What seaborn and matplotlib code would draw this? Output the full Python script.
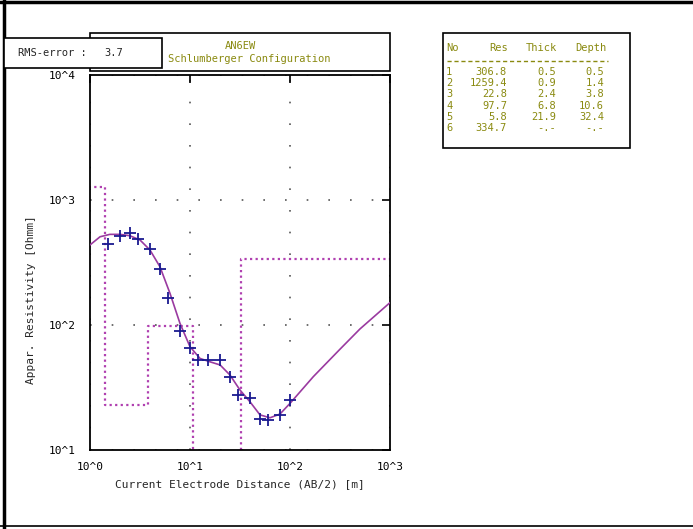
import numpy as np
import pandas as pd
import matplotlib
matplotlib.use("Agg")
import matplotlib.pyplot as plt
from matplotlib.lines import Line2D
from matplotlib.patches import Rectangle
from matplotlib.ticker import LogLocator, FuncFormatter, NullFormatter
import seaborn as sns

# Observed sounding data (AB/2 in m, apparent resistivity in Ohmm)
obs_ab2 = [1.5, 2, 2.5, 3, 4, 5, 6, 8, 10, 12, 15, 20, 25, 30, 40, 50, 60, 80, 100]
obs_rho = [445, 518, 548, 485, 405, 279, 164, 89.5, 65, 52.5, 52.5, 52.5, 38.6, 27.7, 25.9, 17.8, 17.4, 19.2, 25.1]

# Calculated model curve
calc_ab2 = [1.0, 1.26, 1.58, 2.0, 2.5, 3.16, 3.98, 5.01, 6.31, 7.94, 10, 12.6, 15.8, 20,
            25.1, 31.6, 39.8, 50.1, 63.1, 79.4, 100, 171, 316, 501, 1000]
calc_rho = [437, 508, 531, 531, 518, 479, 398, 292, 179, 103, 67, 54, 50.8, 47.9,
            39.8, 30.2, 24.3, 19.1, 18.1, 19.4, 23.6, 38.6, 64, 93, 151]

# Layered model table
layer_no = [1, 2, 3, 4, 5, 6]
layer_res = [306.8, 1259.4, 22.8, 97.7, 5.8, 334.7]
layer_thick = ["0.5", "0.9", "2.4", "6.8", "21.9", "-.-"]
layer_depth = ["0.5", "1.4", "3.8", "10.6", "32.4", "-.-"]
layer_top = [0.1, 0.5, 1.4, 3.8, 10.6, 32.4]

rms_error = 3.7
station = "AN6EW"

txt_col = "#8a8a10"
mono = ["DejaVu Sans Mono"]
fs = 7.5

sns.set_style("white")
plt.rcParams["font.family"] = mono

fig = plt.figure(figsize=(6.93, 5.29), dpi=100)
ax = fig.add_axes([90 / 693, 1 - 450 / 529, 300 / 693, 375 / 529])

# model step line
step_x = layer_top + [1000]
step_y = layer_res + [layer_res[-1]]
ax.plot(step_x, step_y, drawstyle="steps-post", color="#b040b0", lw=1.6,
        linestyle=(0, (1, 1.5)), zorder=2)

obs = pd.DataFrame({"ab2": obs_ab2, "rho": obs_rho})
calc = pd.DataFrame({"ab2": calc_ab2, "rho": calc_rho})
sns.lineplot(data=calc, x="ab2", y="rho", ax=ax, color="#9a3aa0", lw=1.2,
             estimator=None, sort=False, zorder=3)
sns.scatterplot(data=obs, x="ab2", y="rho", ax=ax, marker="+", s=70,
                color="#1a1a90", linewidth=1.3, zorder=4)

ax.set_xscale("log")
ax.set_yscale("log")
ax.set_xlim(1, 1000)
ax.set_ylim(10, 10000)

fmt = FuncFormatter(lambda v, p: "10^%d" % round(np.log10(v)))
ax.xaxis.set_major_locator(LogLocator(base=10, numticks=10))
ax.yaxis.set_major_locator(LogLocator(base=10, numticks=10))
ax.xaxis.set_minor_locator(LogLocator(base=10, subs=np.arange(2, 10), numticks=20))
ax.yaxis.set_minor_locator(LogLocator(base=10, subs=np.arange(2, 10), numticks=20))
ax.xaxis.set_major_formatter(fmt)
ax.yaxis.set_major_formatter(fmt)
ax.xaxis.set_minor_formatter(NullFormatter())
ax.yaxis.set_minor_formatter(NullFormatter())
ax.tick_params(which="major", direction="in", length=6, width=1.2,
               top=True, right=True, labelsize=8, colors="black")
ax.tick_params(which="minor", direction="in", length=3, width=0.8,
               top=False, right=False)
ax.xaxis.set_tick_params(which="major", pad=9)
ax.yaxis.set_tick_params(which="major", pad=10)

ax.grid(True, which="major", color="#555555", linestyle=(0, (1, 12)), lw=1.2)
for s in ax.spines.values():
    s.set_color("black")
    s.set_linewidth(1.3)

ax.set_xlabel("")
ax.set_ylabel("")
fig.text(240 / 693, 1 - 484 / 529, "Current Electrode Distance (AB/2) [m]",
         ha="center", va="center", fontsize=8)
fig.text(31 / 693, 1 - 300 / 529, "Appar. Resistivity [Ohmm]", ha="center",
         va="center", rotation=90, fontsize=8)

# title box
fig.patches.append(Rectangle((90 / 693, 1 - 71 / 529), 300 / 693, 38 / 529,
                             transform=fig.transFigure, fill=False,
                             edgecolor="black", lw=1.2))
fig.text(240 / 693, 1 - 46 / 529, station, ha="center", va="center",
         color=txt_col, fontsize=fs)
fig.text(249 / 693, 1 - 59 / 529, "Schlumberger Configuration", ha="center",
         va="center", color=txt_col, fontsize=fs)

# RMS box
fig.patches.append(Rectangle((4 / 693, 1 - 68 / 529), 158 / 693, 30 / 529,
                             transform=fig.transFigure, facecolor="white",
                             edgecolor="black", lw=1.2, zorder=5))
fig.text(18 / 693, 1 - 53 / 529, "RMS-error :", ha="left", va="center",
         fontsize=fs, zorder=6)
fig.text(104 / 693, 1 - 53 / 529, "%.1f" % rms_error, ha="left", va="center",
         fontsize=fs, zorder=6)

# layer table box
fig.patches.append(Rectangle((443 / 693, 1 - 148 / 529), 187 / 693, 115 / 529,
                             transform=fig.transFigure, fill=False,
                             edgecolor="black", lw=1.2))
hy = 1 - 48 / 529
fig.text(446 / 693, hy, "No", ha="left", va="center", color=txt_col, fontsize=fs)
fig.text(508 / 693, hy, "Res", ha="right", va="center", color=txt_col, fontsize=fs)
fig.text(557 / 693, hy, "Thick", ha="right", va="center", color=txt_col, fontsize=fs)
fig.text(606 / 693, hy, "Depth", ha="right", va="center", color=txt_col, fontsize=fs)
fig.lines.append(Line2D([447 / 693, 608 / 693], [1 - 61 / 529, 1 - 61 / 529],
                        transform=fig.transFigure, color=txt_col, lw=1,
                        linestyle=(0, (3, 2))))
for i in range(len(layer_no)):
    ry = 1 - (72 + 11.2 * i) / 529
    fig.text(446 / 693, ry, str(layer_no[i]), ha="left", va="center",
             color=txt_col, fontsize=fs)
    fig.text(507 / 693, ry, "%.1f" % layer_res[i], ha="right", va="center",
             color=txt_col, fontsize=fs)
    fig.text(556 / 693, ry, layer_thick[i], ha="right", va="center",
             color=txt_col, fontsize=fs)
    fig.text(604 / 693, ry, layer_depth[i], ha="right", va="center",
             color=txt_col, fontsize=fs)

# outer frame lines (left, top, bottom)
fig.lines.append(Line2D([4 / 693, 4 / 693], [0, 1], transform=fig.transFigure,
                        color="black", lw=2.5))
fig.lines.append(Line2D([0, 1], [1 - 2 / 529, 1 - 2 / 529], transform=fig.transFigure,
                        color="black", lw=2.5))
fig.lines.append(Line2D([0, 1], [1 - 526 / 529, 1 - 526 / 529], transform=fig.transFigure,
                        color="black", lw=1.2))

fig.savefig("out.png", dpi=100)
